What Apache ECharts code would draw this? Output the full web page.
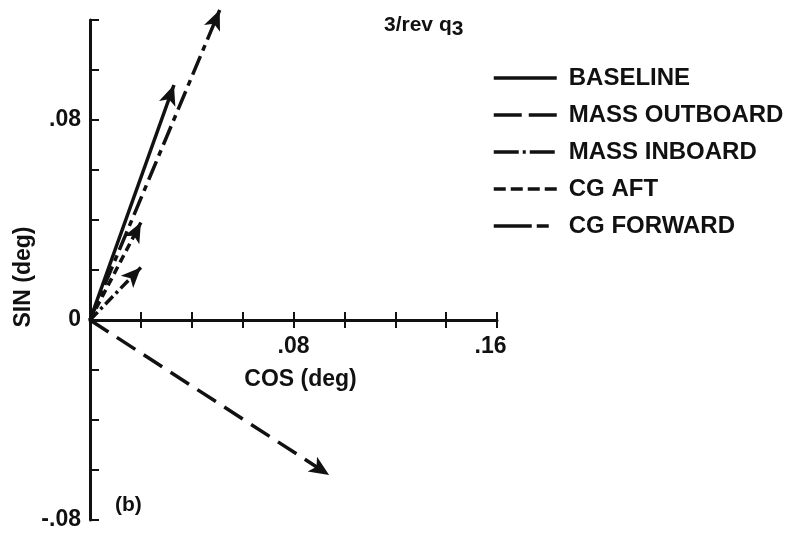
<!DOCTYPE html>
<html>
<head>
<meta charset="utf-8">
<script src="https://cdn.jsdelivr.net/npm/echarts@6/dist/echarts.min.js"></script>
<style>
  html, body { margin: 0; padding: 0; background: #fff; }
  #chart { width: 792px; height: 537px; }
</style>
</head>
<body>
<div id="chart"></div>
<script>
// 3/rev q3 response vectors: each case is drawn from the origin to (cos, sin)
var caseNames = ['BASELINE', 'MASS OUTBOARD', 'MASS INBOARD', 'CG AFT', 'CG FORWARD'];
var cosValues = [0.033, 0.094, 0.020, 0.020, 0.051];
var sinValues = [0.094, -0.062, 0.021, 0.039, 0.124];

// dash patterns for the vectors and for the legend keys
var lineDashes = ['solid', [22, 10], [11, 4, 3, 4], [8, 5], [20, 6, 6, 6]];
var legendDashes = ['solid', [28, 7], [25, 4, 3, 4], [12, 5], [38, 5, 12, 8]];

// axis ranges and the few labelled tick values
var xRange = [0, 0.16];
var yRange = [-0.08, 0.12];
var tickStep = 0.02;
var xTickValues = [0.08, 0.16];
var xTickLabels = ['.08', '.16'];
var yTickValues = [0.08, 0, -0.08];
var yTickLabels = ['.08', '0', '-.08'];

var INK = '#111';
var FONT = 'Liberation Sans';
var GRID = { left: 90, top: 20, width: 407, height: 500 };
var ARROW = [13, 20];
// the COS axis sits on SIN = 0, measured up from the bottom of the plot
var zeroLift = -GRID.height * (0 - yRange[0]) / (yRange[1] - yRange[0]);

function pickLabel(values, labels, lastStyle) {
  return function (v) {
    for (var i = 0; i < values.length; i++) {
      if (Math.abs(v - values[i]) < 1e-9) {
        // the end label is tucked back a little from the axis end
        if (lastStyle && i === values.length - 1) return '{' + lastStyle + '|' + labels[i] + '}';
        return labels[i];
      }
    }
    return '';
  };
}

// vector data: origin, then the tip carrying an arrowhead turned along the shaft
function vectorData(i, rotate) {
  return [
    { value: [0, 0], symbol: 'none' },
    {
      value: [cosValues[i], sinValues[i]],
      symbol: 'arrow', symbolSize: ARROW,
      symbolRotate: rotate
    }
  ];
}

function buildSeries(rotations) {
  return caseNames.map(function (name, i) {
    return {
      name: name,
      type: 'line',
      data: vectorData(i, rotations ? rotations[i] : 0),
      symbol: 'none',
      showSymbol: true,
      clip: false,
      silent: true,
      emphasis: { disabled: true },
      itemStyle: { color: INK },
      lineStyle: { color: INK, width: 3.5, type: lineDashes[i] }
    };
  });
}

var chart = echarts.init(document.getElementById('chart'), null, { renderer: 'canvas' });
chart.setOption({
  animation: false,
  backgroundColor: '#fff',
  textStyle: { fontFamily: FONT, color: INK },
  title: [
    {
      left: 379, top: 5,
      text: '{a|3/rev q}{s|3}',
      textStyle: {
        rich: {
          a: { fontFamily: FONT, fontSize: 21, fontWeight: 'bold', color: INK },
          s: { fontFamily: FONT, fontSize: 21, fontWeight: 'bold', color: INK, padding: [9, 0, 0, 0] }
        }
      }
    },
    {
      left: 110, top: 490,
      text: '(b)',
      textStyle: { fontFamily: FONT, fontSize: 21, fontWeight: 'bold', color: INK }
    }
  ],
  legend: {
    orient: 'vertical',
    left: 487, top: 61,
    itemWidth: 63, itemHeight: 14,
    itemGap: 13,
    selectedMode: false,
    textStyle: { fontFamily: FONT, fontSize: 24, fontWeight: 'bold', color: INK, padding: [0, 0, 0, 7] },
    data: caseNames.map(function (name, i) {
      return {
        name: name,
        itemStyle: { color: 'rgba(0,0,0,0)', borderWidth: 0, opacity: 0 },
        lineStyle: { color: INK, width: 3.5, type: legendDashes[i], opacity: 1 }
      };
    })
  },
  grid: [
    { left: GRID.left, top: GRID.top, width: GRID.width, height: GRID.height, outerBoundsMode: 'none', containLabel: false }
  ],
  xAxis: [
    {
      type: 'value', min: xRange[0], max: xRange[1], interval: tickStep,
      position: 'bottom', offset: zeroLift,
      name: 'COS (deg)', nameLocation: 'middle', nameGap: 48,
      nameTextStyle: { fontFamily: FONT, fontSize: 23, fontWeight: 'bold', color: INK, padding: [0, 0, 0, 14] },
      axisLine: { onZero: false, lineStyle: { color: INK, width: 3 } },
      axisTick: { show: true, inside: false, length: 8, lineStyle: { color: INK, width: 2 } },
      axisLabel: {
        margin: 15, fontFamily: FONT, fontSize: 23, fontWeight: 'bold', color: INK,
        showMinLabel: true, showMaxLabel: true,
        formatter: pickLabel(xTickValues, xTickLabels, 'end'),
        rich: {
          end: { fontFamily: FONT, fontSize: 23, fontWeight: 'bold', color: INK, padding: [0, 13, 0, 0] }
        }
      },
      splitLine: { show: false }
    },
    {
      type: 'value', min: xRange[0], max: xRange[1], interval: tickStep,
      position: 'bottom', offset: zeroLift,
      axisLine: { show: false, onZero: false },
      axisTick: { show: true, inside: true, length: 8, lineStyle: { color: INK, width: 2 } },
      axisLabel: { show: false },
      splitLine: { show: false }
    }
  ],
  yAxis: {
    type: 'value', min: yRange[0], max: yRange[1], interval: tickStep,
    position: 'left',
    name: 'SIN (deg)', nameLocation: 'middle', nameGap: 55, nameRotate: 90,
    nameMoveOverlap: false,
    nameTextStyle: { fontFamily: FONT, fontSize: 23, fontWeight: 'bold', color: INK, padding: [0, 14, 0, 0] },
    axisLine: { onZero: false, lineStyle: { color: INK, width: 3 } },
    axisTick: { show: true, inside: true, length: 9, lineStyle: { color: INK, width: 2 } },
    axisLabel: {
      margin: 9, fontFamily: FONT, fontSize: 23, fontWeight: 'bold', color: INK,
      showMinLabel: true, showMaxLabel: true,
      formatter: pickLabel(yTickValues, yTickLabels)
    },
    splitLine: { show: false }
  },
  series: buildSeries(null)
});

// turn each arrowhead along its shaft
var finder = { xAxisIndex: 0, yAxisIndex: 0 };
var rotations = caseNames.map(function (name, i) {
  var p0 = chart.convertToPixel(finder, [0, 0]);
  var p1 = chart.convertToPixel(finder, [cosValues[i], sinValues[i]]);
  var angle = Math.atan2(p0[1] - p1[1], p1[0] - p0[0]) * 180 / Math.PI;
  return angle - 90;
});
chart.setOption({ series: buildSeries(rotations) });
</script>
</body>
</html>
